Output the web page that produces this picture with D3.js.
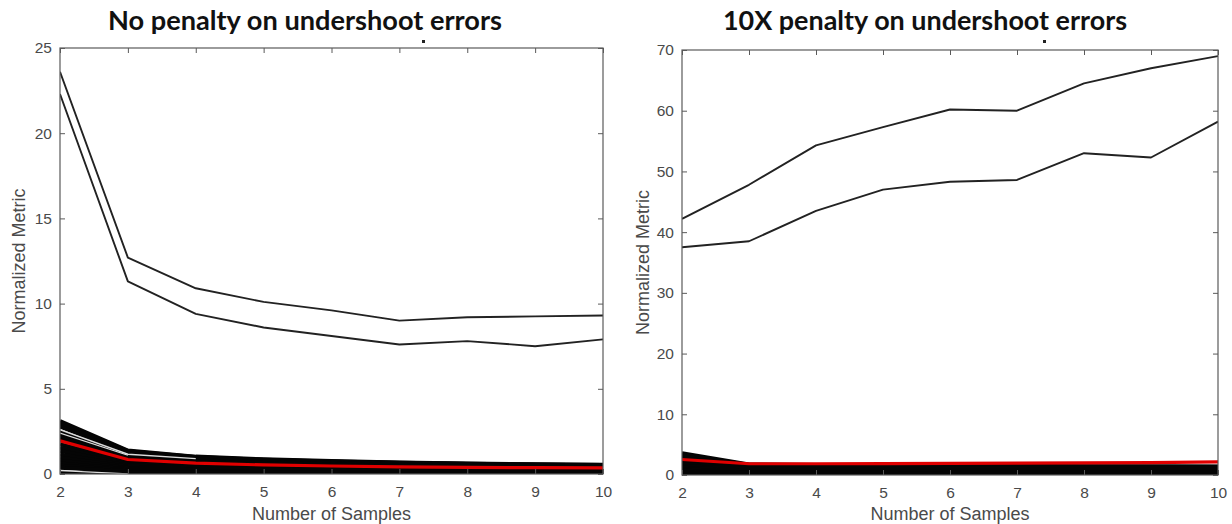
<!DOCTYPE html>
<html>
<head>
<meta charset="utf-8">
<script src="https://cdn.jsdelivr.net/npm/d3@7"></script>
<style>
  html, body { margin: 0; padding: 0; background: #fff; }
  svg { display: block; }
</style>
</head>
<body>
<svg id="chart" width="1232" height="524"></svg>
<script>
// Number of samples on the x axis
const samples = [2, 3, 4, 5, 6, 7, 8, 9, 10];
const xTicks = [2, 3, 4, 5, 6, 7, 8, 9, 10];

// ---- Panel 1: no penalty on undershoot errors ----
const leftTitle = "No penalty on undershoot errors";
const leftYTicks = [0, 5, 10, 15, 20, 25];
const leftOutlierA = [23.6, 12.7, 10.9, 10.1, 9.6, 9.0, 9.2, 9.25, 9.3];
const leftOutlierB = [22.3, 11.3, 9.4, 8.6, 8.1, 7.6, 7.8, 7.5, 7.9];
const leftBundle = [
  [3.10, 1.38, 1.02, 0.86, 0.76, 0.68, 0.62, 0.57, 0.54],
  [3.00, 1.34, 1.00, 0.84, 0.74, 0.66, 0.60, 0.56, 0.53],
  [2.90, 1.30, 0.97, 0.82, 0.72, 0.64, 0.58, 0.54, 0.51],
  [2.78, 1.22, 0.92, 0.78, 0.69, 0.61, 0.56, 0.52, 0.49],
  [2.48, 1.08, 0.85, 0.72, 0.64, 0.57, 0.52, 0.48, 0.46],
  [2.30, 1.02, 0.80, 0.68, 0.61, 0.55, 0.50, 0.47, 0.44],
  [2.15, 0.95, 0.75, 0.64, 0.57, 0.52, 0.48, 0.45, 0.42],
  [2.00, 0.88, 0.70, 0.60, 0.54, 0.49, 0.45, 0.43, 0.40],
  [1.75, 0.72, 0.56, 0.47, 0.43, 0.39, 0.36, 0.34, 0.33],
  [1.55, 0.65, 0.50, 0.43, 0.39, 0.36, 0.33, 0.31, 0.30],
  [1.35, 0.58, 0.45, 0.39, 0.35, 0.32, 0.30, 0.28, 0.27],
  [1.15, 0.50, 0.40, 0.34, 0.31, 0.29, 0.27, 0.25, 0.24],
  [0.95, 0.42, 0.34, 0.29, 0.27, 0.25, 0.23, 0.22, 0.21],
  [0.78, 0.35, 0.28, 0.25, 0.23, 0.21, 0.20, 0.19, 0.18],
  [0.62, 0.28, 0.23, 0.20, 0.19, 0.17, 0.16, 0.15, 0.15],
  [0.48, 0.22, 0.18, 0.16, 0.15, 0.14, 0.13, 0.12, 0.12],
  [0.36, 0.16, 0.13, 0.12, 0.11, 0.10, 0.10, 0.09, 0.09],
  [0.06, 0.08, 0.07, 0.06, 0.06, 0.05, 0.05, 0.05, 0.05]
];
const leftLight = [
  [2.60, 1.16, 0.90, null, null, null, null, null, null],
  [2.40, 1.10, null, null, null, null, null, null, null],
  [0.20, 0.01, null, null, null, null, null, null, null]
];
const leftMean = [1.95, 0.85, 0.64, 0.53, 0.47, 0.42, 0.39, 0.37, 0.36];

// ---- Panel 2: 10X penalty on undershoot errors ----
const rightTitle = "10X penalty on undershoot errors";
const rightYTicks = [0, 10, 20, 30, 40, 50, 60, 70];
const rightOutlierA = [42.2, 47.8, 54.3, 57.3, 60.2, 60.0, 64.5, 67.0, 69.0];
const rightOutlierB = [37.5, 38.5, 43.5, 47.0, 48.3, 48.6, 53.0, 52.3, 58.2];
const rightBundle = [
  [3.6, 1.75, 1.65, 1.60, 1.55, 1.50, 1.45, 1.42, 1.40],
  [3.4, 1.65, 1.55, 1.52, 1.48, 1.44, 1.40, 1.38, 1.36],
  [3.1, 1.55, 1.48, 1.45, 1.42, 1.40, 1.36, 1.34, 1.32],
  [2.8, 1.45, 1.40, 1.38, 1.36, 1.34, 1.32, 1.30, 1.28],
  [2.4, 1.35, 1.30, 1.28, 1.26, 1.25, 1.24, 1.22, 1.20],
  [2.1, 1.20, 1.15, 1.14, 1.12, 1.12, 1.10, 1.10, 1.08],
  [1.8, 1.05, 1.00, 0.99, 0.98, 0.97, 0.96, 0.95, 0.95],
  [1.5, 0.90, 0.86, 0.85, 0.84, 0.83, 0.82, 0.82, 0.81],
  [1.2, 0.75, 0.72, 0.71, 0.70, 0.70, 0.69, 0.69, 0.68],
  [0.9, 0.60, 0.58, 0.57, 0.56, 0.56, 0.55, 0.55, 0.55],
  [0.7, 0.45, 0.44, 0.43, 0.43, 0.42, 0.42, 0.42, 0.41],
  [0.5, 0.32, 0.31, 0.30, 0.30, 0.30, 0.29, 0.29, 0.29],
  [0.3, 0.20, 0.19, 0.19, 0.18, 0.18, 0.18, 0.18, 0.18],
  [0.1, 0.08, 0.08, 0.07, 0.07, 0.07, 0.07, 0.07, 0.07]
];
const rightLight = [];
const rightMean = [2.55, 1.85, 1.85, 1.88, 1.90, 1.95, 2.00, 2.05, 2.15];

const svg = d3.select("#chart");
const axisColor = "#5a5a5a";
const textColor = "#4a4a4a";
const sansFont = "'Liberation Sans', Arial, sans-serif";

function drawPanel(cfg) {
  const g = svg.append("g");
  const x = d3.scaleLinear().domain([2, 10]).range([cfg.left, cfg.right]);
  const y = d3.scaleLinear().domain([0, cfg.yMax]).range([cfg.bottom, cfg.top]);

  const clipId = "clip-" + cfg.id;
  svg.append("clipPath").attr("id", clipId)
    .append("rect")
    .attr("x", cfg.left).attr("y", cfg.top - 2)
    .attr("width", cfg.right - cfg.left).attr("height", cfg.bottom - cfg.top + 2);

  const line = d3.line()
    .defined(d => d[1] != null)
    .x(d => x(d[0]))
    .y(d => y(d[1]));
  const pts = vals => samples.map((s, i) => [s, vals[i]]);

  const plot = g.append("g").attr("clip-path", `url(#${clipId})`);

  // dense bundle of runs near zero
  plot.selectAll("path.bundle").data(cfg.bundle).join("path")
    .attr("class", "bundle")
    .attr("d", d => line(pts(d)))
    .attr("fill", "none").attr("stroke", "#050505")
    .attr("stroke-width", 4).attr("stroke-linejoin", "round");

  plot.selectAll("path.light").data(cfg.light).join("path")
    .attr("class", "light")
    .attr("d", d => line(pts(d)))
    .attr("fill", "none").attr("stroke", "#dcdcdc")
    .attr("stroke-width", 1.3);

  // the two outlying runs
  plot.selectAll("path.outlier").data([cfg.outA, cfg.outB]).join("path")
    .attr("class", "outlier")
    .attr("d", d => line(pts(d)))
    .attr("fill", "none").attr("stroke", "#222")
    .attr("stroke-width", 1.9).attr("stroke-linejoin", "round");

  // mean run in red
  plot.append("path")
    .attr("d", line(pts(cfg.mean)))
    .attr("fill", "none").attr("stroke", "#e00000")
    .attr("stroke-width", 3.2).attr("stroke-linejoin", "round");

  // axes box with inward ticks on all four sides
  const styleAxis = sel => {
    sel.select(".domain").remove();
    sel.selectAll(".tick line").attr("stroke", axisColor).attr("stroke-width", 1);
    sel.selectAll(".tick text")
      .attr("fill", textColor)
      .attr("font-family", sansFont)
      .attr("font-size", 15.5);
  };

  g.append("g").attr("transform", `translate(0,${cfg.bottom})`)
    .call(d3.axisBottom(x).tickValues(xTicks).tickFormat(d3.format("d")).tickSize(-5).tickPadding(12))
    .call(styleAxis);
  g.append("g").attr("transform", `translate(0,${cfg.top})`)
    .call(d3.axisTop(x).tickValues(xTicks).tickFormat("").tickSize(-5))
    .call(styleAxis);
  g.append("g").attr("transform", `translate(${cfg.left},0)`)
    .call(d3.axisLeft(y).tickValues(cfg.yTicks).tickFormat(d3.format("d")).tickSize(-5).tickPadding(8))
    .call(styleAxis);
  g.append("g").attr("transform", `translate(${cfg.right},0)`)
    .call(d3.axisRight(y).tickValues(cfg.yTicks).tickFormat("").tickSize(-5))
    .call(styleAxis);

  g.append("rect")
    .attr("x", cfg.left).attr("y", cfg.top)
    .attr("width", cfg.right - cfg.left).attr("height", cfg.bottom - cfg.top)
    .attr("fill", "none").attr("stroke", axisColor).attr("stroke-width", 1.2);

  // axis titles
  g.append("text")
    .attr("x", (cfg.left + cfg.right) / 2).attr("y", 520)
    .attr("text-anchor", "middle")
    .attr("fill", textColor)
    .attr("font-family", sansFont)
    .attr("font-size", 18)
    .text("Number of Samples");

  g.append("text")
    .attr("transform", `translate(${cfg.yLabelX},${(cfg.top + cfg.bottom) / 2}) rotate(-90)`)
    .attr("text-anchor", "middle")
    .attr("fill", textColor)
    .attr("font-family", sansFont)
    .attr("font-size", 18)
    .text("Normalized Metric");

  // panel heading
  g.append("text")
    .attr("x", cfg.titleX).attr("y", 30)
    .attr("text-anchor", "middle")
    .attr("fill", "#111")
    .attr("font-family", "Lato, 'Open Sans', sans-serif")
    .attr("font-weight", 700)
    .attr("font-size", 26)
    .attr("textLength", cfg.titleW)
    .attr("lengthAdjust", "spacingAndGlyphs")
    .text(cfg.title);

  // small stray mark under the heading
  g.append("rect")
    .attr("x", cfg.markX).attr("y", 40)
    .attr("width", 3).attr("height", 3)
    .attr("fill", "#222");
}

drawPanel({
  id: "left", left: 60, right: 603, top: 48, bottom: 474, yMax: 25,
  yTicks: leftYTicks, outA: leftOutlierA, outB: leftOutlierB,
  bundle: leftBundle, light: leftLight, mean: leftMean,
  title: leftTitle, titleX: 305, titleW: 394, yLabelX: 25, markX: 422
});

drawPanel({
  id: "right", left: 682, right: 1218, top: 50, bottom: 475, yMax: 70,
  yTicks: rightYTicks, outA: rightOutlierA, outB: rightOutlierB,
  bundle: rightBundle, light: rightLight, mean: rightMean,
  title: rightTitle, titleX: 925, titleW: 404, yLabelX: 649, markX: 1043
});
</script>
</body>
</html>
